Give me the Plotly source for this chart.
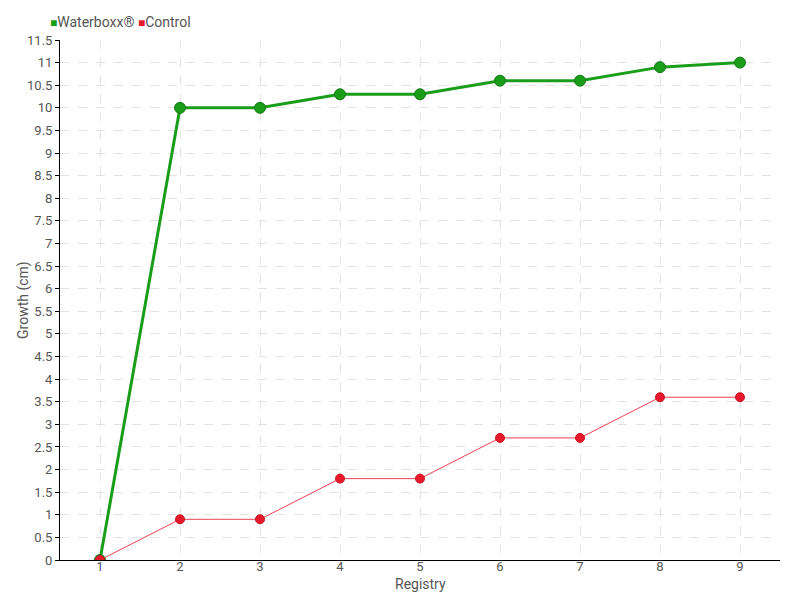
import plotly.graph_objects as go

registry = [1, 2, 3, 4, 5, 6, 7, 8, 9]
waterboxx = [0, 10, 10, 10.3, 10.3, 10.6, 10.6, 10.9, 11]
control = [0, 0.9, 0.9, 1.8, 1.8, 2.7, 2.7, 3.6, 3.6]

font_family = "Roboto"
green = "#1a9e1a"
red = "#e8192c"
grey = "#555"

fig = go.Figure()
fig.add_trace(go.Scatter(x=registry, y=waterboxx, mode="lines+markers", name="Waterboxx®",
                         line=dict(color=green, width=3),
                         marker=dict(color=green, size=11, line=dict(color="#177a17", width=1))))
fig.add_trace(go.Scatter(x=registry, y=control, mode="lines+markers", name="Control",
                         line=dict(color="#f0434f", width=1),
                         marker=dict(color=red, size=9, line=dict(color="#c8101f", width=1))))

# legend drawn as text so it does not push the margins
legend_text = (f"<span style='color:{green};font-size:12px'>■</span>Waterboxx® "
               f"<span style='color:{red};font-size:12px'>■</span>Control")
fig.add_annotation(x=-12 / 720, y=1 + 18 / 520, xref="paper", yref="paper", showarrow=False,
                   xanchor="left", yanchor="middle", text=legend_text,
                   font=dict(size=14, color=grey))

# axis titles
fig.add_annotation(x=0.5, y=-24 / 520, xref="paper", yref="paper", showarrow=False,
                   xanchor="center", yanchor="middle", text="Registry", font=dict(size=14, color=grey))
fig.add_annotation(x=-37 / 720, y=0.5, xref="paper", yref="paper", showarrow=False, textangle=-90,
                   xanchor="center", yanchor="middle", text="Growth (cm)", font=dict(size=14, color=grey))

fig.update_layout(
    width=800, height=600,
    margin=dict(l=60, r=20, t=40, b=40),
    plot_bgcolor="white", paper_bgcolor="white",
    font=dict(family=font_family, size=14, color=grey),
    showlegend=False,
)
fig.update_xaxes(range=[0.5, 9.5], dtick=1, tick0=1, showline=True, linecolor="black", linewidth=1,
                 showgrid=True, gridcolor="#e3e3e3", griddash="dash", zeroline=False, automargin=False,
                 ticks="", ticklabelstandoff=-6, tickfont=dict(size=13, color=grey))
fig.update_yaxes(range=[0, 11.5], dtick=0.5, tick0=0, showline=True, linecolor="black", linewidth=1,
                 showgrid=True, gridcolor="#e3e3e3", griddash="dash", zeroline=False, automargin=False,
                 ticks="outside", ticklen=4, tickcolor="black", tickfont=dict(size=13, color=grey))

fig.write_html("out.html", config={"displayModeBar": False},
               post_script="document.body.style.margin='0';")
